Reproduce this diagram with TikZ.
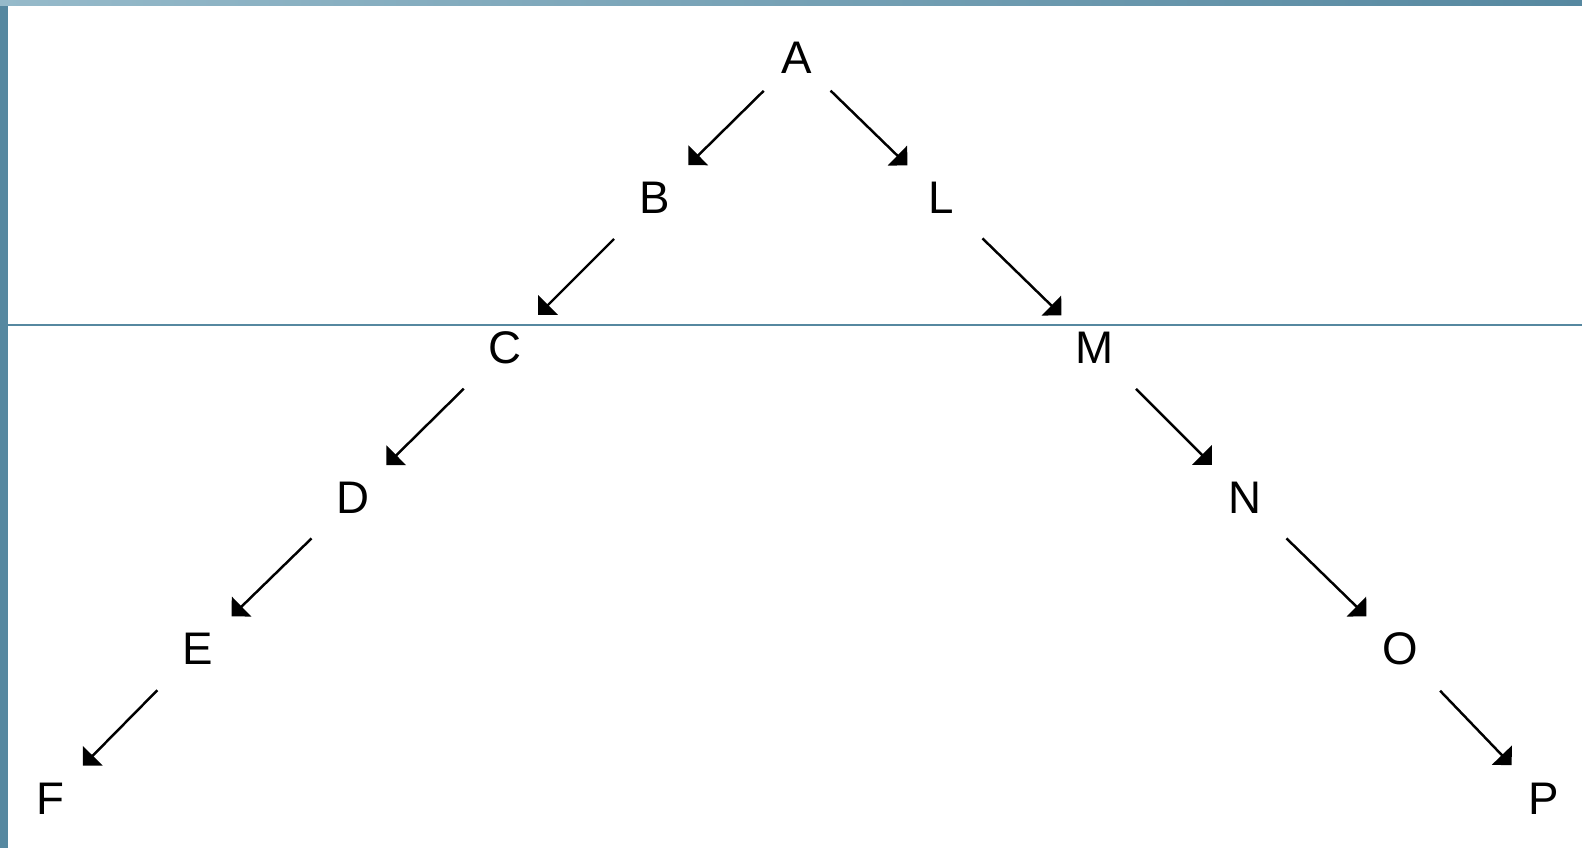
\documentclass[tikz,border=0pt]{standalone}
\usepackage{fontspec}
\setmainfont{Liberation Sans}
\usetikzlibrary{arrows.meta}

\definecolor{slide}{RGB}{86,136,160}
\definecolor{slidelight}{RGB}{150,186,202}

\tikzset{
  letter/.style={circle, minimum size=1.6cm, inner sep=0pt, font=\fontsize{26}{30}\selectfont},
  link/.style={-{Triangle[length=0.28cm, width=0.55cm]}, line width=1.4pt,
    shorten <=0.35cm, shorten >=0.13cm},
}

\begin{document}
\begin{tikzpicture}[x=0.02cm, y=-0.02cm]
  \useasboundingbox (0,0) rectangle (1582,848);
  % slide background
  \fill[slide] (0,0) rectangle (1582,848);
  \shade[left color=slidelight, right color=slide] (0,0) rectangle (1582,6);
  \fill[white] (8,6) rectangle (1582,848);
  \draw[slide, line width=0.035cm] (8,325) -- (1582,325);

  \node[letter] (a) at (797,58) {A};
  \node[letter] (b) at (655,198) {B};
  \node[letter] (l) at (941,198) {L};
  \node[letter] (c) at (505,348) {C};
  \node[letter] (m) at (1095,348) {M};
  \node[letter] (d) at (353,498) {D};
  \node[letter] (n) at (1245,498) {N};
  \node[letter] (e) at (198,649) {E};
  \node[letter] (o) at (1400,649) {O};
  \node[letter] (f) at (50,799) {F};
  \node[letter] (p) at (1544,799) {P};

  \draw[link, shorten <=0.13cm] (a) -- (b);
  \draw[link, shorten <=0.13cm] (a) -- (l);
  \foreach \u/\v in {b/c, c/d, d/e, e/f, l/m, m/n, n/o, o/p}
    \draw[link] (\u) -- (\v);
\end{tikzpicture}
\end{document}
